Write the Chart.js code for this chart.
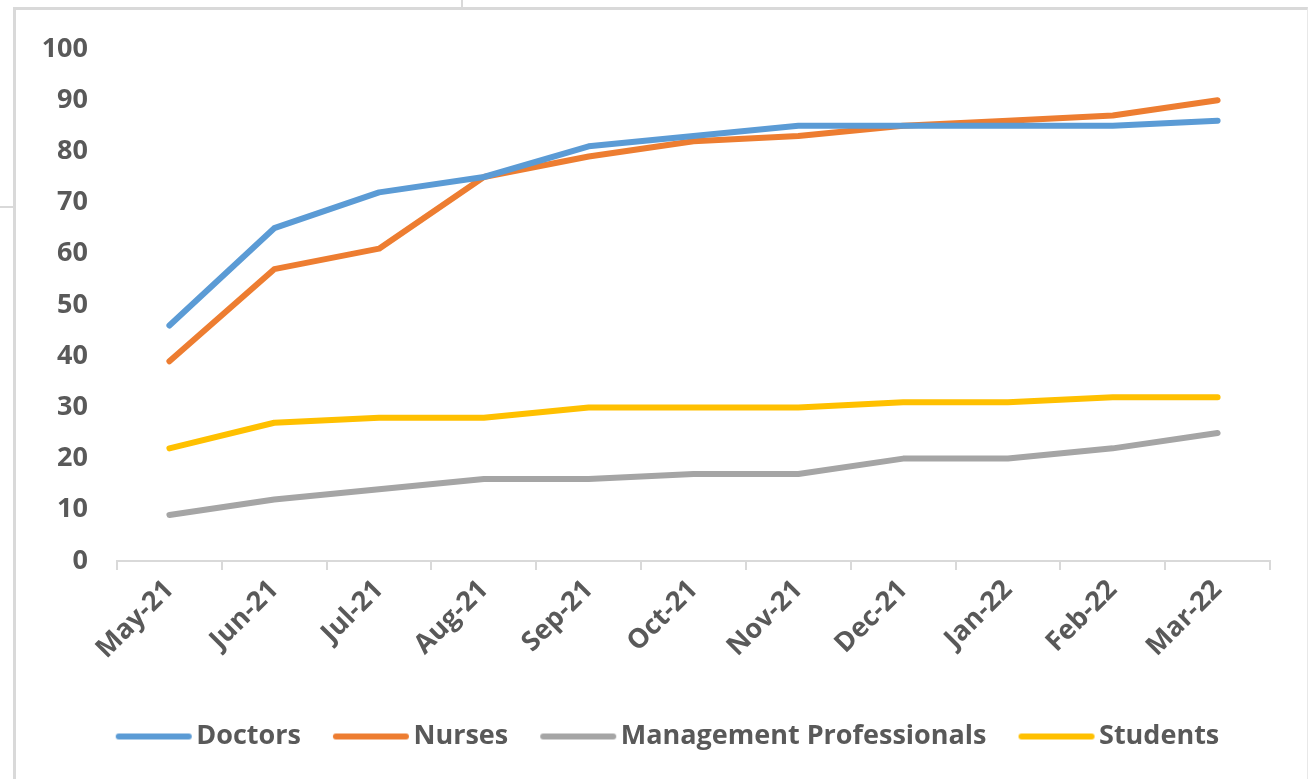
<!DOCTYPE html>
<html>
<head>
<meta charset="utf-8">
<script src="https://cdn.jsdelivr.net/npm/chart.js@4.4.1/dist/chart.umd.min.js"></script>
<style>
  html, body { margin: 0; padding: 0; background: #ffffff; }
  body { width: 1308px; height: 779px; position: relative; overflow: hidden; }
  #frame {
    position: absolute; left: 13px; top: 7px; width: 1291px; height: 800px;
    border-left: 3px solid #d9d9d9; border-top: 3px solid #d9d9d9; border-right: 1px solid #e8e8e8;
    pointer-events: none;
  }
  #tickTop { position: absolute; left: 461px; top: 0; width: 2px; height: 8px; background: #d9d9d9; }
  #tickLeft { position: absolute; left: 0; top: 206px; width: 14px; height: 2px; background: #d9d9d9; }
  #wrap { position: absolute; left: 0; top: 0; width: 1340px; height: 779px; }
</style>
</head>
<body>
<div id="tickTop"></div>
<div id="tickLeft"></div>
<div id="frame"></div>
<div id="wrap"><canvas id="chart" width="1340" height="779"></canvas></div>
<script>
// Monthly figures per group
const months = ['May-21', 'Jun-21', 'Jul-21', 'Aug-21', 'Sep-21', 'Oct-21', 'Nov-21', 'Dec-21', 'Jan-22', 'Feb-22', 'Mar-22'];
const doctors = [46, 65, 72, 75, 81, 83, 85, 85, 85, 85, 86];
const nurses = [39, 57, 61, 75, 79, 82, 83, 85, 86, 87, 90];
const management = [9, 12, 14, 16, 16, 17, 17, 20, 20, 22, 25];
const students = [22, 27, 28, 28, 30, 30, 30, 31, 31, 32, 32];
const seriesNames = ['Doctors', 'Nurses', 'Management Professionals', 'Students'];
const seriesColors = ['#5B9BD5', '#ED7D31', '#A5A5A5', '#FFC000'];

const textColor = '#595959';
const axisColor = '#d9d9d9';
const fontFamily = '"Open Sans", "Liberation Sans", sans-serif';
const fontSize = 27;

// Rounded line swatches for the legend
function swatch(color) {
  const c = document.createElement('canvas');
  c.width = 78; c.height = 8;
  const g = c.getContext('2d');
  g.strokeStyle = color; g.lineWidth = 6; g.lineCap = 'round';
  g.beginPath(); g.moveTo(4, 4); g.lineTo(74, 4); g.stroke();
  return c;
}
const swatches = seriesColors.map(swatch);

const seriesData = [doctors, nurses, management, students];
const datasets = seriesNames.map((name, i) => ({
  label: name,
  data: seriesData[i],
  yAxisID: 'y',
  borderColor: seriesColors[i],
  backgroundColor: seriesColors[i],
  borderWidth: 6,
  borderCapStyle: 'round',
  borderJoinStyle: 'round',
  pointRadius: 0,
  pointHoverRadius: 0,
  tension: 0,
  fill: false
}));

new Chart(document.getElementById('chart'), {
  type: 'line',
  data: { labels: months, datasets: datasets },
  options: {
    responsive: false,
    animation: false,
    events: [],
    layout: { padding: { left: 16, right: 12, top: 49, bottom: 19 } },
    scales: {
      x: {
        offset: true,
        grid: { display: true, drawOnChartArea: false, drawTicks: true, tickLength: 9, color: axisColor, lineWidth: 2, offset: true },
        border: { display: true, color: axisColor, width: 2 },
        ticks: {
          color: textColor,
          font: { family: fontFamily, size: fontSize, weight: 'bold' },
          minRotation: 45, maxRotation: 45,
          padding: 4,
          autoSkip: false
        },
        afterFit: (s) => { s.height = 121; }
      },
      y: {
        position: 'left',
        min: 0, max: 100,
        grid: { display: false, drawTicks: false },
        border: { display: false },
        ticks: {
          stepSize: 10,
          color: textColor,
          font: { family: fontFamily, size: fontSize, weight: 'bold' },
          padding: 29
        },
        afterFit: (s) => { s.width = 101; }
      },
      // empty right-hand margin beside the plot
      yRight: {
        position: 'right',
        display: true,
        grid: { display: false, drawTicks: false },
        border: { display: false },
        ticks: { display: false },
        afterFit: (s) => { s.width = 58; }
      }
    },
    plugins: {
      tooltip: { enabled: false },
      legend: {
        position: 'bottom',
        labels: {
          color: textColor,
          font: { family: fontFamily, size: fontSize, weight: 'bold' },
          usePointStyle: true,
          pointStyleWidth: 58,
          padding: 41,
          generateLabels: (chart) => {
            const items = Chart.defaults.plugins.legend.labels.generateLabels(chart);
            items.forEach((it, i) => { it.pointStyle = swatches[i]; });
            return items;
          }
        }
      }
    }
  }
});
</script>
</body>
</html>
